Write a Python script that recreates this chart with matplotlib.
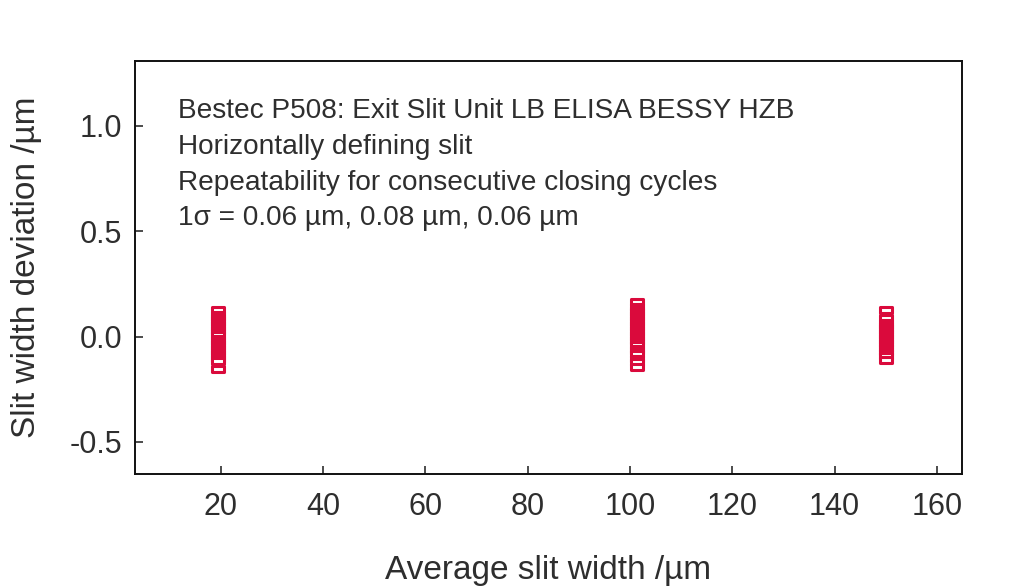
import matplotlib
matplotlib.use("Agg")
import matplotlib.pyplot as plt
from matplotlib.path import Path

plt.rcParams['font.family'] = ['Liberation Sans', 'DejaVu Sans']

# Data: repeated closing cycles at three average slit widths
x_20 = 19.4
dev_20 = [0.128, 0.104, 0.092, 0.080, 0.068, 0.057, 0.045, 0.033, 0.021, 0.009,
          -0.009, -0.021, -0.033, -0.045, -0.057, -0.066, -0.081, -0.093, -0.105,
          -0.118, -0.155]
x_100 = 101.3
dev_100 = [0.162, 0.140, 0.128, 0.116, 0.104, 0.092, 0.080, 0.068, 0.056, 0.044,
           0.032, 0.020, 0.008, -0.004, -0.016, -0.026, -0.040, -0.058, -0.070,
           -0.082, -0.104, -0.120, -0.146]
x_150 = 150.0
dev_150 = [0.124, 0.090, 0.066, 0.054, 0.042, 0.030, 0.018, 0.006, -0.006, -0.018,
           -0.030, -0.042, -0.054, -0.066, -0.078, -0.090, -0.112]

xticks = [20, 40, 60, 80, 100, 120, 140, 160]
yticks = [-0.5, 0.0, 0.5, 1.0]
lines = ["Bestec P508: Exit Slit Unit LB ELISA BESSY HZB",
         "Horizontally defining slit",
         "Repeatability for consecutive closing cycles",
         "1\u03c3 = 0.06 \u00b5m, 0.08 \u00b5m, 0.06 \u00b5m"]

red = '#DA0A3C'
txt = '#2e2e2e'
rect = Path([(-1, -0.42), (1, -0.42), (1, 0.42), (-1, 0.42), (-1, -0.42)],
            [Path.MOVETO, Path.LINETO, Path.LINETO, Path.LINETO, Path.CLOSEPOLY])

fig = plt.figure(figsize=(10.24, 5.88), dpi=100)
ax = fig.add_axes([135/1024, 1-474/588, 827/1024, 413/588])

for xv, devs in [(x_20, dev_20), (x_100, dev_100), (x_150, dev_150)]:
    ax.plot([xv]*len(devs), devs, linestyle='none', marker=rect, markersize=9.0,
            markerfacecolor='white', markeredgecolor=red, markeredgewidth=2.2)

ax.set_xlim(3.2, 164.9)
ax.set_ylim(-0.652, 1.308)
ax.set_xticks(xticks)
ax.set_xticklabels([str(t) for t in xticks])
ax.set_yticks(yticks)
ax.set_yticklabels(['-0.5', '0.0', '0.5', '1.0'])
ax.tick_params(direction='in', length=6, width=1.2, labelsize=22, colors=txt)
ax.tick_params(axis='x', pad=13)
ax.tick_params(axis='y', pad=9)
for s in ax.spines.values():
    s.set_linewidth(1.4)
    s.set_color('#111111')

ax.set_xlabel('Average slit width /\u00b5m', fontsize=24, labelpad=24, color=txt)
ax.set_ylabel('Slit width deviation /\u00b5m', fontsize=24, labelpad=20, color=txt)

ys = [0.862, 0.775, 0.688, 0.603]
for t, yv in zip(lines, ys):
    ax.text(0.052, yv, t, transform=ax.transAxes, fontsize=20.2, va='baseline',
            ha='left', color=txt)

fig.savefig('out.png', dpi=100)
